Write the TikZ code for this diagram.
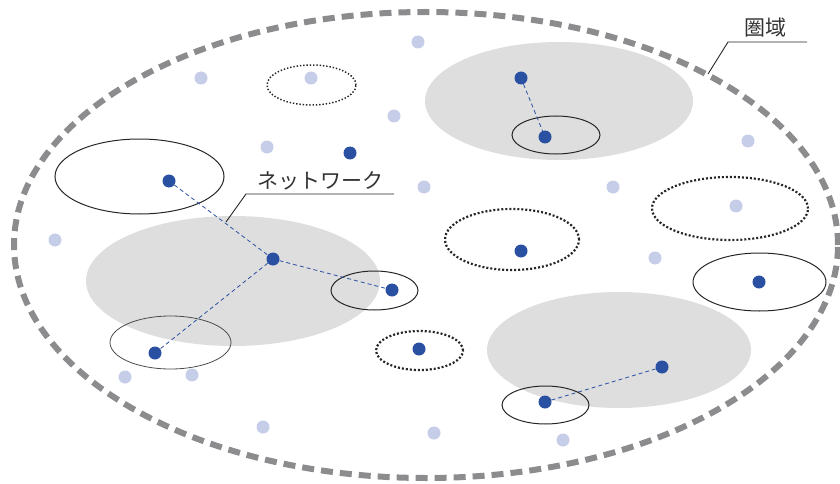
\documentclass[tikz,border=0pt]{standalone}
\usepackage{fontspec}
\newfontfamily\jp{Noto Sans CJK JP}
\usetikzlibrary{shapes.geometric}
\definecolor{dkblue}{HTML}{2A50A2}
\definecolor{ltblue}{HTML}{C5CDE8}
\definecolor{zone}{HTML}{DEDEDE}
\definecolor{border}{HTML}{8C8C8E}
\tikzset{
  ell/.style={ellipse, inner sep=0pt, outer sep=0pt, minimum width=#1},
  zonefill/.style={fill=zone, draw=none},
  solidring/.style={draw=black!85, line width=1pt},
  dotring/.style={draw=black!85, line width=2.2pt, dash pattern=on 2pt off 2pt},
  hub/.style={circle, fill=dkblue, inner sep=0pt, minimum size=13pt},
  lite/.style={circle, fill=ltblue, inner sep=0pt, minimum size=13pt},
  link/.style={draw=dkblue, line width=0.8pt, dash pattern=on 4pt off 3pt},
  lbl/.style={font=\jp\fontsize{21}{23}\selectfont, text=black!80, inner sep=0pt, anchor=base},
  leader/.style={draw=black!85, line width=0.9pt},
}
\begin{document}
\begin{tikzpicture}[x=1pt,y=-1pt]
\useasboundingbox (0,0) rectangle (840,484);
% gray zones
\node[ell=268pt, minimum height=118pt, zonefill] (z1) at (559,101) {};
\node[ell=294pt, minimum height=130pt, zonefill] (z2) at (233,281) {};
\node[ell=264pt, minimum height=116pt, zonefill] (z3) at (619,350) {};
% outer region
\node[ell=824pt, minimum height=466pt, draw=border, line width=6pt, dash pattern=on 12pt off 7pt] (outer) at (426,245) {};
% solid rings
\node[ell=169pt, minimum height=75pt, solidring] (r1) at (139.5,176.5) {};
\node[ell=88pt, minimum height=38pt, solidring] (r2) at (556,135) {};
\node[ell=87pt, minimum height=39pt, solidring] (r3) at (374.5,290.5) {};
\node[ell=121pt, minimum height=53pt, solidring, draw=black!70, line width=0.8pt] (r4) at (170.5,342.5) {};
\node[ell=133pt, minimum height=58pt, solidring] (r5) at (759.5,282) {};
\node[ell=87pt, minimum height=38pt, solidring] (r6) at (545.5,405) {};
% dotted rings
\node[ell=89pt, minimum height=40pt, dotring, line width=1.5pt, dash pattern=on 1.4pt off 1.9pt] (d1) at (311.5,85) {};
\node[ell=134pt, minimum height=61pt, dotring] (d2) at (512,239.5) {};
\node[ell=87pt, minimum height=39pt, dotring] (d3) at (419.5,350.5) {};
\node[ell=156pt, minimum height=63pt, dotring] (d4) at (730,208.5) {};
% light points
\foreach \n/\p in {l1/{418,42}, l2/{201,78}, l3/{311,78}, l4/{394,116}, l5/{267,147}, l6/{748,141}, l7/{424,187}, l8/{613,187}, l9/{55,240}, l10/{736,206}, l11/{655,258}, l12/{125,377}, l13/{192,375}, l14/{263,427}, l15/{434,433}, l16/{563,440}}
  \node[lite] (\n) at (\p) {};
% hubs
\node[hub] (h1) at (521,78) {};
\node[hub] (h2) at (545,137) {};
\node[hub] (h3) at (350,153) {};
\node[hub] (h4) at (169,181) {};
\node[hub] (h5) at (273,259) {};
\node[hub] (h6) at (392,290) {};
\node[hub] (h7) at (155,353) {};
\node[hub] (h8) at (521,251) {};
\node[hub] (h9) at (419,349) {};
\node[hub] (h10) at (759,282) {};
\node[hub] (h11) at (662,367) {};
\node[hub] (h12) at (545,402) {};
% links
\draw[link] (h1) -- (h2);
\draw[link] (h4) -- (h5);
\draw[link] (h5) -- (h6);
\draw[link] (h5) -- (h7);
\draw[link] (h12) -- (h11);
% labels
\node[lbl] (t1) at (765,36) {圏域};
\coordinate (t1a) at (728,42);
\coordinate (t1b) at (807,42);
\coordinate (t1c) at (708,74);
\draw[leader] (t1b) -- (t1a) -- (t1c);
\node[lbl] (t2) at (320,188) {ネットワーク};
\coordinate (t2a) at (246,194);
\coordinate (t2b) at (394,194);
\coordinate (t2c) at (226,222);
\draw[leader] (t2b) -- (t2a) -- (t2c);
\end{tikzpicture}
\end{document}
